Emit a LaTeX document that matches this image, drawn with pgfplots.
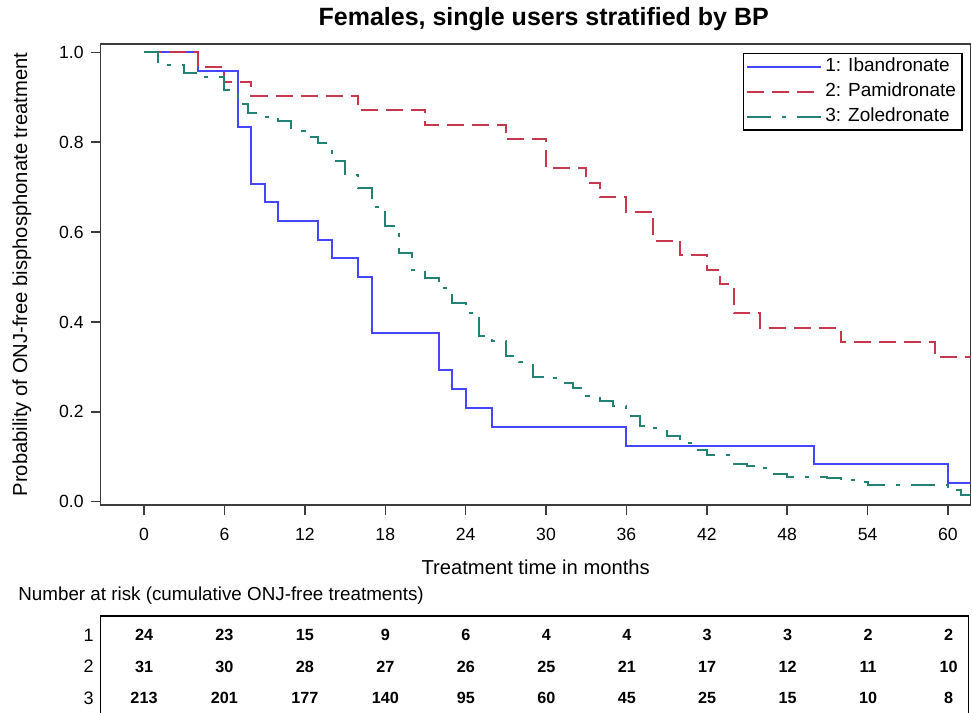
\documentclass[border=0pt]{standalone}
\usepackage{fontspec}
\setmainfont{Liberation Sans}
\usepackage{pgfplots}
\pgfplotsset{compat=1.18}

\definecolor{ibacol}{RGB}{70,70,255}
\definecolor{pamcol}{RGB}{200,55,75}
\definecolor{zolcol}{RGB}{35,130,115}
\definecolor{framecol}{RGB}{60,60,60}

\begin{document}
\begin{tikzpicture}
\useasboundingbox (-50.35pt,-103.5pt) rectangle (435.65pt,252.5pt);
% survival curves
\begin{axis}[name=main, at={(0pt,0pt)}, anchor=south west,
    scale only axis, width=435pt, height=230.5pt,
    xmin=-3.24, xmax=61.7, ymin=-0.0073, ymax=1.0185,
    xtick={0,6,...,60}, ytick={0,0.2,0.4,0.6,0.8,1},
    tick pos=left, tick align=outside, major tick length=5pt,
    tick style={framecol, line width=0.75pt},
    axis line style={framecol, line width=0.75pt},
    /pgf/number format/assume math mode=true,
    tick label style={font=\fontsize{8.8}{10}\selectfont},
    xticklabel style={yshift=-3pt},
    yticklabel style={/pgf/number format/.cd, fixed, fixed zerofill, precision=1},
    title={Females, single users stratified by BP},
    title style={font=\bfseries\fontsize{12.5}{14}\selectfont, at={(axis description cs:0.5,1)}, anchor=base, yshift=3pt, xshift=4pt},
    xlabel={Treatment time in months},
    xlabel style={font=\fontsize{10.1}{12}\selectfont, at={(axis description cs:0.5,-0.1345)}, anchor=center},
    ylabel={Probability of ONJ-free bisphosphonate treatment},
    ylabel style={font=\fontsize{10.1}{12}\selectfont, at={(axis description cs:-0.0905,0.5)}, anchor=center},
    legend style={at={(axis description cs:0.9908,0.9805)}, anchor=north east, draw=black, line width=0.75pt,
        font=\fontsize{9.5}{11}\selectfont, inner xsep=1.25pt, inner ysep=0.3pt, row sep=0pt,
        nodes={inner sep=1.75pt, text height=7pt, text depth=2pt}},
    legend cell align=left,
    legend image code/.code={\draw[#1] (0pt,0pt) -- (37pt,0pt);},
    legend entries={1: Ibandronate, 2: Pamidronate, 3: Zoledronate},
]
\addplot[const plot, ibacol, line width=1pt] table {
x y
0 1.0
4 0.958
7 0.833
8 0.708
9 0.667
10 0.625
13 0.583
14 0.542
16 0.5
17 0.375
22 0.292
23 0.25
24 0.208
26 0.167
36 0.125
50 0.083
60 0.042
61.7 0.042
};
\addplot[const plot, pamcol, line width=1pt, dash pattern=on 8.5pt off 4pt] table {
x y
0 1.0
4 0.968
6 0.935
8 0.903
16 0.871
21 0.839
27 0.806
30 0.742
33 0.710
34 0.677
36 0.645
38 0.581
40 0.548
42 0.516
43 0.484
44 0.419
46 0.387
52 0.355
59 0.323
61.7 0.323
};
\addplot[const plot, zolcol, line width=1pt, dash pattern=on 12pt off 5.5pt on 2pt off 5.5pt] table {
x y
0 1.0
1 0.972
3 0.953
4 0.944
6 0.916
7 0.885
7.75 0.864
9 0.857
10 0.848
11 0.826
12 0.812
13 0.798
14 0.758
15 0.726
16 0.697
17 0.656
18 0.614
19 0.554
20 0.515
21 0.498
22 0.475
23 0.443
24 0.421
25 0.369
26 0.358
27 0.324
28 0.31
29 0.278
30 0.275
31 0.265
32 0.253
33 0.236
34 0.224
35 0.214
36 0.19
37 0.169
38 0.164
39 0.147
40 0.13
41 0.116
42 0.104
44 0.084
45 0.08
46 0.075
47 0.062
48 0.056
51 0.052
52 0.048
53 0.043
54 0.037
60 0.026
61 0.016
61.7 0.016
};
\end{axis}
% number at risk table
\begin{axis}[at={(0pt,-55.5pt)}, anchor=north west,
    scale only axis, width=433.8pt, height=50pt,
    xmin=-3.23, xmax=61.47, ymin=0.44, ymax=3.6,
    xtick=\empty, ytick={1,2,3}, yticklabels={3,2,1},
    major tick length=0pt,
    axis line style={black, line width=0.75pt},
    yticklabel style={font=\fontsize{9}{10}\selectfont},
    title={Number at risk (cumulative ONJ-free treatments)},
    title style={font=\fontsize{9.4}{11}\selectfont, at={(axis description cs:0,1)}, anchor=base west, inner sep=0pt, xshift=-41.35pt, yshift=2pt},
]
\addplot[only marks, mark=none, nodes near coords, point meta=explicit symbolic,
    nodes near coords style={anchor=center, text=black, font=\bfseries\fontsize{8.1}{9}\selectfont}] table[meta=n] {
x y n
0 3 24
6 3 23
12 3 15
18 3 9
24 3 6
30 3 4
36 3 4
42 3 3
48 3 3
54 3 2
60 3 2
0 2 31
6 2 30
12 2 28
18 2 27
24 2 26
30 2 25
36 2 21
42 2 17
48 2 12
54 2 11
60 2 10
0 1 213
6 1 201
12 1 177
18 1 140
24 1 95
30 1 60
36 1 45
42 1 25
48 1 15
54 1 10
60 1 8
};
\end{axis}
\end{tikzpicture}
\end{document}
